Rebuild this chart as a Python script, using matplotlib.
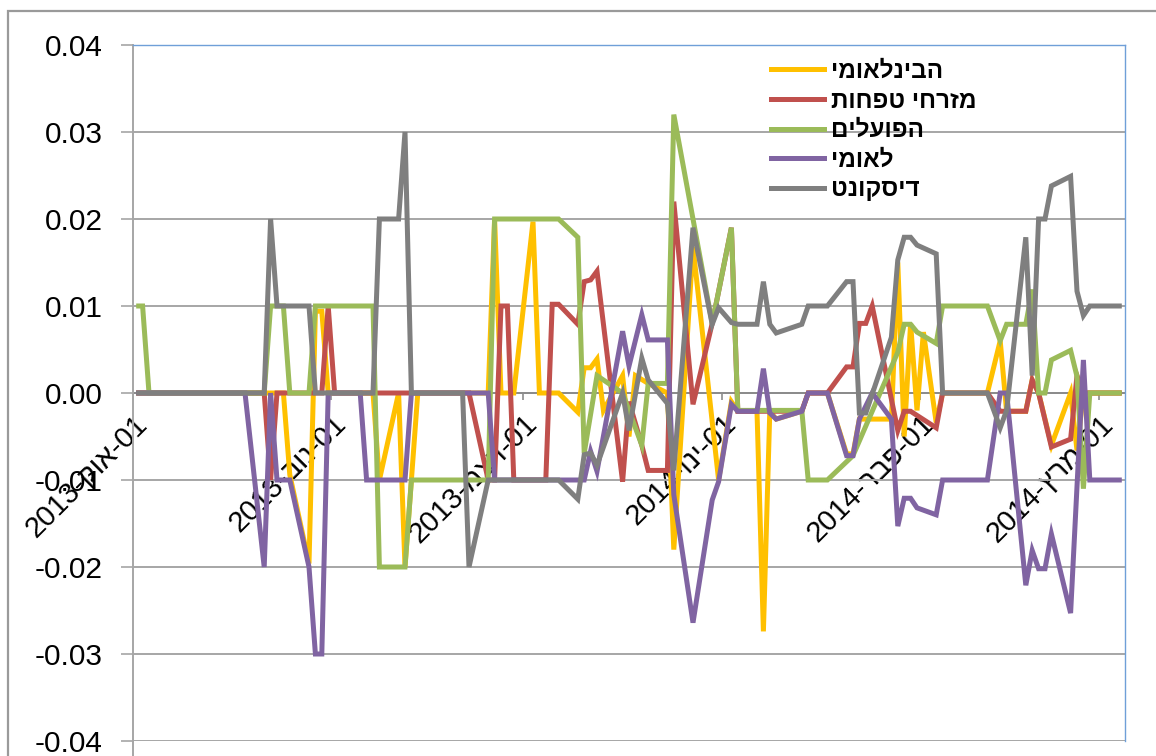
import matplotlib
matplotlib.use("Agg")
import matplotlib.pyplot as plt
import matplotlib.transforms as mtransforms
from matplotlib.patches import Rectangle
from matplotlib.lines import Line2D
import pandas as pd

plt.rcParams['font.family'] = ['Liberation Sans', 'DejaVu Sans']
plt.rcParams['axes.unicode_minus'] = False

# ---------------- data ----------------
start_date = "2013-10-01"
end_date = "2014-03-06"

series_names = ["הבינלאומי", "מזרחי טפחות", "הפועלים", "לאומי", "דיסקונט"]
series_colors = ["#FFC000", "#C0504D", "#9BBB59", "#8064A2", "#7F7F7F"]

# day offsets (from start_date) and daily change values
bl_days = [0, 23, 24, 27, 28, 29, 30, 37, 38, 41, 42, 44, 55, 56, 57, 59, 62, 63, 66, 69, 70, 71, 72,
           73, 76, 77, 78, 80, 83, 84, 87, 91, 93, 94, 97, 98, 99, 100, 104, 105, 108, 111, 112, 113,
           118, 119, 120, 121, 122, 123, 125, 126, 133, 135, 136, 139, 140, 141, 143, 146, 147, 148, 154]
bl_vals = [0, 0, -0.0094, -0.0196, 0.0094, 0.0094, 0, 0, -0.01, 0, -0.02, 0, 0, 0.02, 0, 0, 0.0197, 0, 0,
           -0.0022, 0.0029, 0.0029, 0.0039, -0.002, 0.002, -0.005, 0.002, 0.0011, 0, -0.018, 0.0168, -0.01,
           -0.001, -0.0021, -0.0021, -0.0274, -0.0021, -0.003, -0.0021, 0, 0, -0.007, -0.007, -0.003,
           -0.003, 0.015, -0.005, 0.008, -0.002, 0.007, -0.0034, 0, 0, 0.006, -0.0021, -0.0021, 0.0015,
           0, -0.006, 0, -0.0066, 0, 0]

mz_days = [0, 20, 21, 22, 29, 30, 31, 52, 55, 56, 57, 58, 59, 64, 65, 66, 69, 70, 71, 72, 76, 77, 79, 80,
           83, 84, 87, 90, 93, 94, 104, 105, 108, 111, 112, 113, 114, 115, 119, 120, 121, 125, 126, 133,
           135, 139, 140, 141, 143, 146, 147, 148, 154]
mz_vals = [0, 0, -0.01, 0, 0, 0.01, 0, 0, -0.01, -0.01, 0.01, 0.01, -0.01, -0.01, 0.0102, 0.0102, 0.0079,
           0.0128, 0.013, 0.014, -0.0102, -0.001, -0.006, -0.0089, -0.0089, 0.022, -0.0013, 0.008, 0.019,
           -0.0021, -0.0021, 0, 0, 0.003, 0.003, 0.008, 0.008, 0.01, -0.0043, -0.0021, -0.0021, -0.004, 0,
           0, -0.0021, -0.0021, 0.0015, 0, -0.0062, -0.0053, 0.002, 0, 0]

hp_days = [0, 1, 2, 20, 21, 23, 24, 27, 28, 37, 38, 42, 43, 55, 56, 66, 69, 70, 72, 76, 79, 80, 83, 84,
           90, 93, 94, 104, 105, 108, 112, 119, 120, 121, 122, 125, 126, 133, 135, 136, 139, 140, 141,
           142, 143, 146, 147, 148, 149, 154]
hp_vals = [0.01, 0.01, 0, 0, 0.01, 0.01, 0, 0, 0.01, 0.01, -0.02, -0.02, -0.01, -0.01, 0.02, 0.02, 0.0179,
           -0.0069, 0.002, 0, -0.006, 0.0011, 0.0011, 0.032, 0.008, 0.019, -0.002, -0.002, -0.01, -0.01,
           -0.0072, 0.0047, 0.0079, 0.0079, 0.007, 0.0057, 0.01, 0.01, 0.006, 0.0079, 0.0079, 0.0119, 0,
           0, 0.0038, 0.0049, 0.0019, -0.011, 0, 0]

le_days = [0, 17, 20, 21, 22, 24, 27, 28, 29, 30, 35, 36, 42, 43, 55, 56, 70, 71, 72, 76, 77, 79, 80, 83,
           84, 87, 90, 91, 93, 94, 97, 98, 99, 100, 104, 105, 108, 111, 112, 113, 115, 118, 119, 120,
           121, 122, 125, 126, 133, 135, 136, 139, 140, 141, 142, 143, 146, 148, 149, 154]
le_vals = [0, 0, -0.02, 0, -0.01, -0.01, -0.02, -0.03, -0.03, 0, 0, -0.01, -0.01, 0, 0, -0.01, -0.01,
           -0.0067, -0.009, 0.0071, 0.0031, 0.009, 0.0061, 0.0061, -0.0117, -0.0264, -0.0123, -0.0102,
           -0.0013, -0.0021, -0.0021, 0.0028, -0.0023, -0.003, -0.0021, 0, 0, -0.0072, -0.0072, -0.003,
           0, -0.003, -0.0153, -0.0121, -0.0121, -0.0132, -0.014, -0.01, -0.01, 0, 0, -0.0221, -0.0181,
           -0.0202, -0.0202, -0.0162, -0.0253, 0.0038, -0.01, -0.01]

ds_days = [0, 20, 21, 22, 27, 28, 37, 38, 41, 42, 43, 51, 52, 55, 66, 69, 70, 71, 72, 76, 77, 79, 80, 83,
           84, 87, 90, 91, 93, 94, 97, 98, 99, 100, 104, 105, 108, 111, 112, 113, 114, 118, 119, 120,
           121, 122, 125, 126, 133, 135, 136, 139, 140, 141, 142, 143, 146, 147, 148, 149, 154]
ds_vals = [0, 0, 0.02, 0.01, 0.01, 0, 0, 0.02, 0.02, 0.03, 0, 0, -0.02, -0.01, -0.01, -0.0122, -0.0071,
           -0.0069, -0.0083, 0, -0.0043, 0.004, 0.0015, -0.0012, -0.0089, 0.019, 0.0079, 0.0098, 0.0081,
           0.0079, 0.0079, 0.0128, 0.0079, 0.0069, 0.0079, 0.01, 0.01, 0.0128, 0.0128, -0.0023, -0.0023,
           0.0064, 0.0153, 0.0179, 0.0179, 0.017, 0.016, 0, 0, -0.004, -0.002, 0.0179, 0.002, 0.02, 0.02,
           0.0238, 0.0249, 0.0117, 0.0089, 0.01, 0.01]

y_ticks = [-0.04, -0.03, -0.02, -0.01, 0.0, 0.01, 0.02, 0.03, 0.04]
tick_dates = ["2013-10-01", "2013-11-01", "2013-12-01", "2014-01-01", "2014-02-01", "2014-03-01"]
tick_years = ["2013", "2013", "2013", "2014", "2014", "2014"]
tick_months = ["אוק", "נוב", "דצמ", "ינו", "פבר", "מרץ"]


def rtl(s):
    # matplotlib has no bidi support: give Hebrew text in visual order
    return s[::-1]


# ---------------- figure ----------------
W, H, DPI = 1156, 756, 100
fig = plt.figure(figsize=(W / DPI, H / DPI), dpi=DPI)
fig.patch.set_facecolor("white")

# outer chart-area frame
fig.patches.append(Rectangle((8 / W, -0.2), 2.0, 1.2 - 11 / H, transform=fig.transFigure,
                             fill=False, edgecolor="#9a9a9a", linewidth=1.6, zorder=0))
# value axis line continues below the last gridline
fig.add_artist(Line2D([133 / W, 133 / W], [0, 1 - 741 / H], transform=fig.transFigure,
                      color="#a6a6a6", linewidth=1.4))

ax = fig.add_axes([133 / W, 1 - 741 / H, (1125 - 133) / W, (741 - 45) / H])

t0 = pd.Timestamp(start_date)
half = pd.Timedelta(hours=12)   # points sit between the day tick marks


def to_dates(days):
    return t0 + pd.to_timedelta(days, unit="D") + half


all_days = [bl_days, mz_days, hp_days, le_days, ds_days]
all_vals = [bl_vals, mz_vals, hp_vals, le_vals, ds_vals]
for i, (d, v) in enumerate(zip(all_days, all_vals)):
    ax.plot(to_dates(d), v, color=series_colors[i], linewidth=3.6, solid_joinstyle="miter",
            solid_capstyle="butt", zorder=3 + i)

ax.set_xlim(t0, pd.Timestamp(end_date) - pd.Timedelta(days=1))
ax.set_ylim(-0.04, 0.04)
ax.set_yticks(y_ticks)
ax.set_yticklabels([f"{v:.2f}" for v in y_ticks])
ax.yaxis.grid(True, color="#a6a6a6", linewidth=1.4, zorder=1)
ax.set_axisbelow(True)

ax.tick_params(axis="y", which="major", length=8.6, width=1.2, color="#a6a6a6", pad=13.0,
               labelsize=21.5, labelcolor="black")

# horizontal (date) axis crossing at zero
ax.spines["bottom"].set_position(("data", 0))
ax.spines["bottom"].set_color("#8c8c8c")
ax.spines["bottom"].set_linewidth(1.4)
ax.spines["bottom"].set_zorder(2)
ax.spines["left"].set_color("#a6a6a6")
ax.spines["left"].set_linewidth(1.4)
ax.spines["top"].set_color("#6f9fd8")
ax.spines["top"].set_linewidth(1.0)
ax.spines["right"].set_color("#6f9fd8")
ax.spines["right"].set_linewidth(1.0)

ax.set_xticks([pd.Timestamp(t) for t in tick_dates])
ax.set_xticklabels([f"{y}-{rtl(m)}-01" for y, m in zip(tick_years, tick_months)],
                   rotation=45, ha="right", rotation_mode="anchor", fontsize=21)
ax.tick_params(axis="x", which="major", length=5, width=1.2, color="#8c8c8c", pad=10, direction="out")
shift = mtransforms.ScaledTranslation(0 / DPI, 4 / DPI, fig.dpi_scale_trans)
for lab in ax.get_xticklabels():
    lab.set_transform(lab.get_transform() + shift)

# legend
handles = [Line2D([0], [0], color=c, linewidth=3.6) for c in series_colors]
leg = fig.legend(handles, [rtl(n) for n in series_names], loc="upper left",
                 bbox_to_anchor=(771 / W, 1 - 60 / H), frameon=False,
                 prop={"size": 17.5, "weight": "bold"}, handlelength=2.18, handletextpad=0.27,
                 labelspacing=0.27, borderaxespad=0, borderpad=0)

fig.savefig("out.png", dpi=DPI)
